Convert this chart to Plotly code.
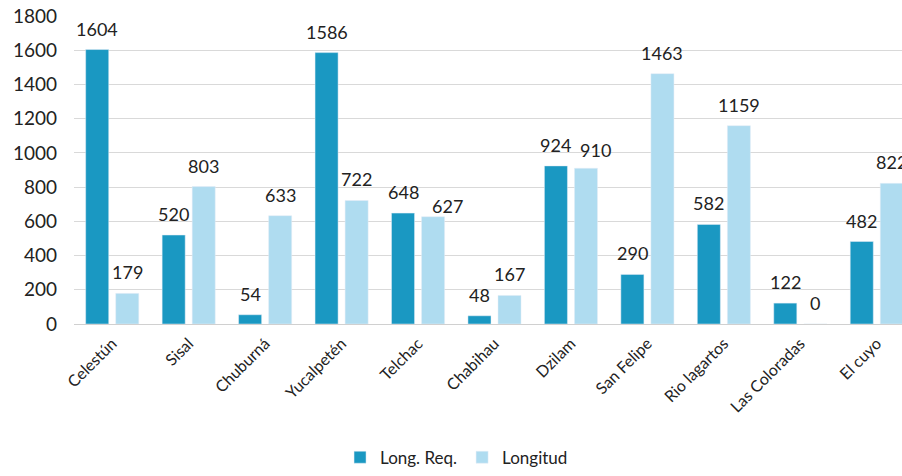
import plotly.graph_objects as go

categories = ["Celestún", "Sisal", "Chuburná", "Yucalpetén", "Telchac", "Chabihau",
              "Dzilam", "San Felipe", "Rio lagartos", "Las Coloradas", "El cuyo"]
long_req = [1604, 520, 54, 1586, 648, 48, 924, 290, 582, 122, 482]
longitud = [179, 803, 633, 722, 627, 167, 910, 1463, 1159, 0, 822]
y_ticks = [0, 200, 400, 600, 800, 1000, 1200, 1400, 1600, 1800]

DARK = "#1a98c2"
LIGHT = "#afdcf0"
FONT = "Lato"

# label nudges (px) used in the original to avoid overlapping neighbouring labels
LABEL_NUDGE = {("Longitud", "Telchac"): (14, -10), ("Longitud", "Dzilam"): (10, -3)}

fig = go.Figure()
fig.add_trace(go.Bar(name="Long. Req.", x=categories, y=long_req, marker_color=DARK))
fig.add_trace(go.Bar(name="Longitud", x=categories, y=longitud, marker_color=LIGHT))

annotations = []
for series, values, base_shift in (("Long. Req.", long_req, -15), ("Longitud", longitud, 15)):
    for cat, v in zip(categories, values):
        dx, dy = LABEL_NUDGE.get((series, cat), (0, 0))
        annotations.append(dict(x=cat, y=v, xref="x", yref="y", text=str(v), showarrow=False,
                                xshift=base_shift + dx, yshift=21 + dy, yanchor="middle",
                                font=dict(family=FONT, size=18, color="#222")))

fig.update_layout(
    width=902, height=476,
    margin=dict(l=74, r=0, t=16, b=149),
    plot_bgcolor="white", paper_bgcolor="white",
    barmode="group", bargap=0.214, bargroupgap=0.233,
    font=dict(family=FONT, size=16, color="#222"),
    annotations=annotations,
    showlegend=True,
    legend=dict(orientation="h", x=0.462, xanchor="center", y=-0.434, yanchor="middle",
                font=dict(family=FONT, size=17, color="#222"), itemwidth=30,
                tracegroupgap=0, traceorder="normal"),
    xaxis=dict(range=[-0.5, 10.33], tickangle=-45, showgrid=False, automargin=False,
               showline=True, linecolor="#d0d0d0", linewidth=1, ticklabelstandoff=3,
               tickfont=dict(family=FONT, size=16, color="#222")),
    yaxis=dict(range=[0, 1800], tickvals=y_ticks, showgrid=True, gridcolor="#d9d9d9",
               gridwidth=1, zeroline=False, ticklabelstandoff=16, automargin=False,
               ticklabeloverflow="allow",
               tickfont=dict(family=FONT, size=19, color="#222")),
)

# remove the default page margin so the figure fills the 902x476 window exactly
fig.write_html(
    "out.html",
    config={"displayModeBar": False},
    post_script="document.body.style.margin='0';"
                "document.documentElement.style.overflow='hidden';",
)
